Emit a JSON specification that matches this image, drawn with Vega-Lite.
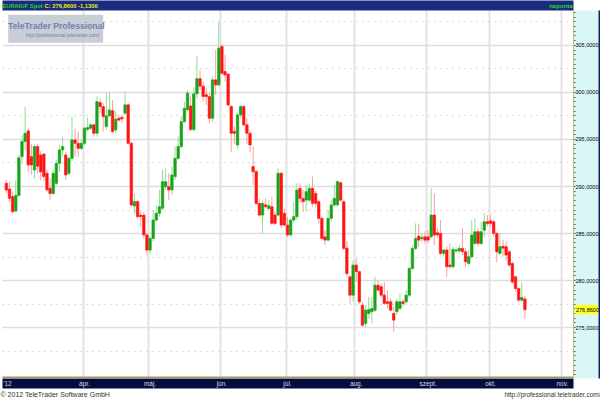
{
"$schema": "https://vega.github.io/schema/vega-lite/v6.json",
"width": 571, "height": 368,
"autosize": {"type": "none"},
"padding": {"left": 2, "top": 10, "right": 27, "bottom": 22},
"background": "#ffffff",
"config": {"view": {"stroke": null}, "font": "Liberation Sans"},
"resolve": {"axis": {"x": "independent", "y": "independent"}},
"data": {"values": [
{"d":"2012-02-27","o":290.28,"h":290.64,"l":289.22,"c":289.57},
{"d":"2012-02-28","o":289.68,"h":290.46,"l":288.33,"c":288.69},
{"d":"2012-02-29","o":288.87,"h":289.4,"l":287.1,"c":287.27},
{"d":"2012-03-01","o":287.34,"h":290.6,"l":287.2,"c":289.0},
{"d":"2012-03-02","o":289.0,"h":293.3,"l":288.8,"c":293.0},
{"d":"2012-03-05","o":293.12,"h":295.4,"l":292.4,"c":294.72},
{"d":"2012-03-06","o":294.72,"h":298.4,"l":293.8,"c":295.6},
{"d":"2012-03-07","o":295.85,"h":296.1,"l":291.5,"c":292.24},
{"d":"2012-03-08","o":293.12,"h":294.5,"l":291.2,"c":292.24},
{"d":"2012-03-09","o":291.7,"h":294.4,"l":290.8,"c":294.2},
{"d":"2012-03-12","o":294.2,"h":294.5,"l":291.3,"c":292.1},
{"d":"2012-03-13","o":293.3,"h":293.7,"l":290.6,"c":291.5},
{"d":"2012-03-14","o":293.4,"h":293.5,"l":290.5,"c":291.0},
{"d":"2012-03-15","o":291.35,"h":291.7,"l":289.4,"c":289.6},
{"d":"2012-03-16","o":289.75,"h":290.8,"l":288.5,"c":289.2},
{"d":"2012-03-19","o":289.2,"h":291.7,"l":289.0,"c":291.35},
{"d":"2012-03-20","o":290.28,"h":292.77,"l":290.1,"c":292.41},
{"d":"2012-03-21","o":292.41,"h":294.36,"l":291.5,"c":293.83},
{"d":"2012-03-22","o":293.83,"h":295.25,"l":293.12,"c":294.19},
{"d":"2012-03-23","o":293.3,"h":293.65,"l":290.64,"c":291.17},
{"d":"2012-03-26","o":291.35,"h":293.12,"l":291.17,"c":292.94},
{"d":"2012-03-27","o":292.94,"h":297.4,"l":292.6,"c":294.9},
{"d":"2012-03-28","o":294.9,"h":296.1,"l":293.12,"c":294.54},
{"d":"2012-03-29","o":294.54,"h":295.78,"l":293.12,"c":294.0},
{"d":"2012-03-30","o":294.0,"h":294.9,"l":293.83,"c":294.54},
{"d":"2012-04-02","o":294.54,"h":296.3,"l":294.36,"c":296.14},
{"d":"2012-04-03","o":296.0,"h":297.27,"l":295.78,"c":296.2},
{"d":"2012-04-04","o":296.14,"h":296.67,"l":295.96,"c":296.5},
{"d":"2012-04-05","o":296.5,"h":296.67,"l":295.25,"c":295.6},
{"d":"2012-04-06","o":295.6,"h":299.5,"l":295.25,"c":298.97},
{"d":"2012-04-09","o":298.87,"h":299.3,"l":297.7,"c":298.44},
{"d":"2012-04-10","o":298.44,"h":298.8,"l":295.8,"c":297.38},
{"d":"2012-04-11","o":296.31,"h":299.86,"l":295.96,"c":297.45},
{"d":"2012-04-12","o":297.45,"h":300.0,"l":297.38,"c":298.08},
{"d":"2012-04-13","o":298.0,"h":299.15,"l":295.6,"c":295.78},
{"d":"2012-04-16","o":295.96,"h":297.9,"l":295.6,"c":297.1},
{"d":"2012-04-17","o":297.2,"h":297.55,"l":296.84,"c":297.0},
{"d":"2012-04-18","o":297.3,"h":297.55,"l":296.67,"c":297.13},
{"d":"2012-04-19","o":297.73,"h":300.03,"l":297.55,"c":298.62},
{"d":"2012-04-20","o":298.62,"h":298.8,"l":294.36,"c":294.54},
{"d":"2012-04-23","o":294.54,"h":294.7,"l":287.8,"c":287.98},
{"d":"2012-04-24","o":287.88,"h":289.2,"l":287.1,"c":288.34},
{"d":"2012-04-25","o":288.34,"h":288.5,"l":286.56,"c":286.74},
{"d":"2012-04-26","o":286.9,"h":287.27,"l":285.67,"c":286.74},
{"d":"2012-04-27","o":286.9,"h":287.27,"l":284.43,"c":284.8},
{"d":"2012-04-30","o":284.8,"h":284.96,"l":282.66,"c":283.19},
{"d":"2012-05-01","o":283.19,"h":284.6,"l":282.8,"c":284.43},
{"d":"2012-05-02","o":284.43,"h":287.45,"l":284.08,"c":286.38},
{"d":"2012-05-03","o":286.38,"h":287.98,"l":286.2,"c":287.1},
{"d":"2012-05-04","o":287.1,"h":289.58,"l":286.74,"c":287.8},
{"d":"2012-05-07","o":287.63,"h":291.7,"l":287.45,"c":290.46},
{"d":"2012-05-08","o":289.93,"h":291.88,"l":289.58,"c":290.46},
{"d":"2012-05-09","o":289.93,"h":291.35,"l":288.5,"c":289.58},
{"d":"2012-05-10","o":289.58,"h":292.06,"l":289.04,"c":291.17},
{"d":"2012-05-11","o":291.0,"h":294.19,"l":290.64,"c":292.94},
{"d":"2012-05-14","o":292.94,"h":295.25,"l":292.77,"c":294.19},
{"d":"2012-05-15","o":294.19,"h":297.38,"l":294.0,"c":296.84},
{"d":"2012-05-16","o":296.84,"h":298.97,"l":296.67,"c":298.26},
{"d":"2012-05-17","o":298.1,"h":300.2,"l":297.9,"c":299.86},
{"d":"2012-05-18","o":298.5,"h":299.5,"l":295.8,"c":296.0},
{"d":"2012-05-21","o":296.0,"h":300.5,"l":295.8,"c":299.8},
{"d":"2012-05-22","o":299.8,"h":303.8,"l":299.3,"c":301.4},
{"d":"2012-05-23","o":301.4,"h":302.3,"l":300.2,"c":300.6},
{"d":"2012-05-24","o":300.6,"h":301.1,"l":298.97,"c":299.5},
{"d":"2012-05-25","o":299.7,"h":300.4,"l":298.6,"c":299.5},
{"d":"2012-05-28","o":299.5,"h":299.86,"l":296.67,"c":297.2},
{"d":"2012-05-29","o":297.2,"h":301.63,"l":296.84,"c":301.28},
{"d":"2012-05-30","o":301.28,"h":304.47,"l":299.68,"c":300.74},
{"d":"2012-05-31","o":300.74,"h":307.48,"l":300.57,"c":304.64},
{"d":"2012-06-01","o":304.82,"h":305.0,"l":301.8,"c":301.98},
{"d":"2012-06-04","o":302.16,"h":303.93,"l":301.1,"c":301.8},
{"d":"2012-06-05","o":301.88,"h":301.98,"l":298.44,"c":298.6},
{"d":"2012-06-06","o":298.44,"h":298.6,"l":293.65,"c":295.6},
{"d":"2012-06-07","o":295.8,"h":296.3,"l":294.5,"c":295.6},
{"d":"2012-06-08","o":294.36,"h":297.73,"l":294.0,"c":297.55},
{"d":"2012-06-11","o":297.55,"h":298.6,"l":297.2,"c":298.44},
{"d":"2012-06-12","o":298.44,"h":298.6,"l":296.3,"c":296.5},
{"d":"2012-06-13","o":296.5,"h":297.2,"l":294.5,"c":295.6},
{"d":"2012-06-14","o":295.6,"h":296.0,"l":293.6,"c":294.36},
{"d":"2012-06-15","o":292.06,"h":294.19,"l":290.1,"c":291.52},
{"d":"2012-06-18","o":291.52,"h":291.7,"l":287.98,"c":288.15},
{"d":"2012-06-19","o":288.15,"h":288.68,"l":286.74,"c":286.91},
{"d":"2012-06-20","o":286.91,"h":288.5,"l":284.96,"c":288.15},
{"d":"2012-06-21","o":288.0,"h":288.68,"l":287.6,"c":287.8},
{"d":"2012-06-22","o":287.6,"h":288.5,"l":287.4,"c":287.9},
{"d":"2012-06-25","o":287.8,"h":288.86,"l":285.85,"c":286.03},
{"d":"2012-06-26","o":286.91,"h":287.27,"l":285.85,"c":286.03},
{"d":"2012-06-27","o":286.91,"h":291.88,"l":286.74,"c":291.35},
{"d":"2012-06-28","o":291.35,"h":291.52,"l":285.5,"c":285.85},
{"d":"2012-06-29","o":287.1,"h":287.6,"l":285.7,"c":285.85},
{"d":"2012-07-02","o":285.85,"h":286.7,"l":284.6,"c":284.8},
{"d":"2012-07-03","o":284.8,"h":286.56,"l":284.6,"c":286.38},
{"d":"2012-07-04","o":286.38,"h":288.33,"l":286.03,"c":286.74},
{"d":"2012-07-05","o":286.74,"h":290.28,"l":286.38,"c":289.57},
{"d":"2012-07-06","o":289.75,"h":290.28,"l":288.15,"c":288.68},
{"d":"2012-07-09","o":288.68,"h":289.57,"l":287.27,"c":288.33},
{"d":"2012-07-10","o":288.5,"h":290.1,"l":287.27,"c":289.4},
{"d":"2012-07-11","o":288.5,"h":290.28,"l":288.33,"c":289.75},
{"d":"2012-07-12","o":289.75,"h":291.0,"l":287.8,"c":288.15},
{"d":"2012-07-13","o":289.2,"h":289.5,"l":287.8,"c":288.15},
{"d":"2012-07-16","o":288.33,"h":288.5,"l":286.03,"c":286.56},
{"d":"2012-07-17","o":286.56,"h":286.74,"l":284.25,"c":284.43},
{"d":"2012-07-18","o":284.6,"h":285.3,"l":283.72,"c":284.25},
{"d":"2012-07-19","o":284.25,"h":287.45,"l":284.08,"c":286.56},
{"d":"2012-07-20","o":286.56,"h":288.5,"l":286.2,"c":287.98},
{"d":"2012-07-23","o":287.98,"h":290.1,"l":287.8,"c":288.68},
{"d":"2012-07-24","o":288.0,"h":290.64,"l":287.8,"c":290.46},
{"d":"2012-07-25","o":290.35,"h":290.46,"l":288.33,"c":288.5},
{"d":"2012-07-26","o":288.33,"h":288.5,"l":283.19,"c":283.37},
{"d":"2012-07-27","o":283.4,"h":284.2,"l":280.35,"c":280.7},
{"d":"2012-07-30","o":280.35,"h":280.5,"l":277.5,"c":278.4},
{"d":"2012-07-31","o":278.4,"h":282.1,"l":277.7,"c":281.6},
{"d":"2012-08-01","o":281.6,"h":282.3,"l":279.8,"c":280.9},
{"d":"2012-08-02","o":280.9,"h":281.0,"l":277.5,"c":277.7},
{"d":"2012-08-03","o":277.33,"h":277.7,"l":275.0,"c":275.2},
{"d":"2012-08-06","o":275.4,"h":277.34,"l":275.0,"c":276.8},
{"d":"2012-08-07","o":276.45,"h":278.2,"l":275.9,"c":276.88},
{"d":"2012-08-08","o":276.63,"h":278.2,"l":275.4,"c":276.98},
{"d":"2012-08-09","o":276.8,"h":280.35,"l":276.6,"c":279.47},
{"d":"2012-08-10","o":279.47,"h":280.0,"l":278.8,"c":278.94},
{"d":"2012-08-13","o":279.3,"h":279.65,"l":278.2,"c":278.4},
{"d":"2012-08-14","o":278.4,"h":279.8,"l":277.35,"c":277.52},
{"d":"2012-08-15","o":277.7,"h":278.94,"l":277.0,"c":277.52},
{"d":"2012-08-16","o":277.7,"h":278.05,"l":276.64,"c":276.81},
{"d":"2012-08-17","o":276.46,"h":277.17,"l":274.5,"c":275.75},
{"d":"2012-08-20","o":276.64,"h":278.0,"l":276.3,"c":277.7},
{"d":"2012-08-21","o":277.0,"h":278.6,"l":276.8,"c":277.7},
{"d":"2012-08-22","o":277.7,"h":278.0,"l":277.2,"c":277.52},
{"d":"2012-08-23","o":277.7,"h":278.94,"l":277.35,"c":278.4},
{"d":"2012-08-24","o":278.4,"h":281.42,"l":278.2,"c":281.24},
{"d":"2012-08-27","o":281.24,"h":283.72,"l":281.06,"c":283.37},
{"d":"2012-08-28","o":283.37,"h":286.03,"l":283.2,"c":284.43},
{"d":"2012-08-29","o":284.68,"h":286.03,"l":283.55,"c":284.25},
{"d":"2012-08-30","o":284.4,"h":285.0,"l":284.0,"c":284.55},
{"d":"2012-08-31","o":284.6,"h":285.2,"l":283.9,"c":284.25},
{"d":"2012-09-03","o":284.6,"h":285.3,"l":283.9,"c":284.25},
{"d":"2012-09-04","o":284.61,"h":289.75,"l":284.43,"c":286.92},
{"d":"2012-09-05","o":286.92,"h":289.2,"l":283.72,"c":284.79},
{"d":"2012-09-06","o":285.03,"h":285.5,"l":284.5,"c":284.79},
{"d":"2012-09-07","o":284.96,"h":286.38,"l":282.66,"c":282.84},
{"d":"2012-09-10","o":282.84,"h":283.3,"l":282.48,"c":283.2},
{"d":"2012-09-11","o":283.2,"h":283.55,"l":280.35,"c":281.42},
{"d":"2012-09-12","o":281.6,"h":283.9,"l":281.24,"c":281.42},
{"d":"2012-09-13","o":281.42,"h":283.55,"l":281.24,"c":283.26},
{"d":"2012-09-14","o":283.1,"h":283.5,"l":282.9,"c":283.2},
{"d":"2012-09-17","o":283.1,"h":283.72,"l":282.84,"c":283.37},
{"d":"2012-09-18","o":283.37,"h":285.5,"l":282.66,"c":283.02},
{"d":"2012-09-19","o":283.02,"h":283.37,"l":281.42,"c":281.95},
{"d":"2012-09-20","o":281.77,"h":283.2,"l":281.6,"c":282.48},
{"d":"2012-09-21","o":282.48,"h":286.38,"l":282.3,"c":284.79},
{"d":"2012-09-24","o":283.9,"h":286.56,"l":283.7,"c":285.14},
{"d":"2012-09-25","o":285.14,"h":285.5,"l":283.6,"c":283.9},
{"d":"2012-09-26","o":283.9,"h":286.2,"l":283.7,"c":285.14},
{"d":"2012-09-27","o":285.3,"h":287.1,"l":284.6,"c":286.2},
{"d":"2012-09-28","o":286.2,"h":286.92,"l":285.7,"c":286.0},
{"d":"2012-10-01","o":286.3,"h":286.9,"l":285.7,"c":286.03},
{"d":"2012-10-02","o":286.2,"h":286.4,"l":284.6,"c":284.96},
{"d":"2012-10-03","o":284.96,"h":285.1,"l":281.95,"c":283.0},
{"d":"2012-10-04","o":282.84,"h":285.0,"l":282.66,"c":283.55},
{"d":"2012-10-05","o":283.6,"h":284.3,"l":282.5,"c":283.4},
{"d":"2012-10-08","o":283.55,"h":284.1,"l":282.1,"c":282.66},
{"d":"2012-10-09","o":283.0,"h":283.2,"l":281.4,"c":281.6},
{"d":"2012-10-10","o":281.77,"h":281.95,"l":279.6,"c":279.8},
{"d":"2012-10-11","o":280.35,"h":280.5,"l":278.8,"c":279.1},
{"d":"2012-10-12","o":279.1,"h":279.3,"l":277.7,"c":277.87},
{"d":"2012-10-15","o":277.87,"h":279.8,"l":277.7,"c":278.15},
{"d":"2012-10-16","o":278.0,"h":278.3,"l":275.9,"c":276.86}
]},
"layer": [
{
"mark": {"type": "rule", "strokeWidth": 1},
"encoding": {
"x": {"field": "d", "type": "ordinal",
"scale": {"paddingInner": 0.2, "paddingOuter": 0, "domain": ["2012-02-24","2012-02-27","2012-02-28","2012-02-29","2012-03-01","2012-03-02","2012-03-05","2012-03-06","2012-03-07","2012-03-08","2012-03-09","2012-03-12","2012-03-13","2012-03-14","2012-03-15","2012-03-16","2012-03-19","2012-03-20","2012-03-21","2012-03-22","2012-03-23","2012-03-26","2012-03-27","2012-03-28","2012-03-29","2012-03-30","2012-04-02","2012-04-03","2012-04-04","2012-04-05","2012-04-06","2012-04-09","2012-04-10","2012-04-11","2012-04-12","2012-04-13","2012-04-16","2012-04-17","2012-04-18","2012-04-19","2012-04-20","2012-04-23","2012-04-24","2012-04-25","2012-04-26","2012-04-27","2012-04-30","2012-05-01","2012-05-02","2012-05-03","2012-05-04","2012-05-07","2012-05-08","2012-05-09","2012-05-10","2012-05-11","2012-05-14","2012-05-15","2012-05-16","2012-05-17","2012-05-18","2012-05-21","2012-05-22","2012-05-23","2012-05-24","2012-05-25","2012-05-28","2012-05-29","2012-05-30","2012-05-31","2012-06-01","2012-06-04","2012-06-05","2012-06-06","2012-06-07","2012-06-08","2012-06-11","2012-06-12","2012-06-13","2012-06-14","2012-06-15","2012-06-18","2012-06-19","2012-06-20","2012-06-21","2012-06-22","2012-06-25","2012-06-26","2012-06-27","2012-06-28","2012-06-29","2012-07-02","2012-07-03","2012-07-04","2012-07-05","2012-07-06","2012-07-09","2012-07-10","2012-07-11","2012-07-12","2012-07-13","2012-07-16","2012-07-17","2012-07-18","2012-07-19","2012-07-20","2012-07-23","2012-07-24","2012-07-25","2012-07-26","2012-07-27","2012-07-30","2012-07-31","2012-08-01","2012-08-02","2012-08-03","2012-08-06","2012-08-07","2012-08-08","2012-08-09","2012-08-10","2012-08-13","2012-08-14","2012-08-15","2012-08-16","2012-08-17","2012-08-20","2012-08-21","2012-08-22","2012-08-23","2012-08-24","2012-08-27","2012-08-28","2012-08-29","2012-08-30","2012-08-31","2012-09-03","2012-09-04","2012-09-05","2012-09-06","2012-09-07","2012-09-10","2012-09-11","2012-09-12","2012-09-13","2012-09-14","2012-09-17","2012-09-18","2012-09-19","2012-09-20","2012-09-21","2012-09-24","2012-09-25","2012-09-26","2012-09-27","2012-09-28","2012-10-01","2012-10-02","2012-10-03","2012-10-04","2012-10-05","2012-10-08","2012-10-09","2012-10-10","2012-10-11","2012-10-12","2012-10-15","2012-10-16","2012-10-17","2012-10-18","2012-10-19","2012-10-22","2012-10-23","2012-10-24","2012-10-25","2012-10-26","2012-10-29","2012-10-30","2012-10-31","2012-11-01","2012-11-02","2012-11-05","2012-11-06"]},
"axis": {"orient": "bottom", "offset": 5, "domain": true, "domainColor": "#070c40", "domainWidth": 10, "domainCap": "butt", "ticks": false, "tickSize": 0, "grid": false, "labels": false,
"title": "© 2012 TeleTrader Software GmbH", "titleX": -2, "titleY": 11, "titleAlign": "left", "titleAnchor": "start", "titleBaseline": "middle", "titleFontSize": 7, "titleFontWeight": "normal", "titleColor": "#333333", "zindex": 0}},
"y": {"field": "l", "type": "quantitative", "scale": {"domain": [269.6, 308.7], "nice": false, "zero": false},
"axis": {"orient": "right", "offset": 12.5, "domain": true, "domainColor": "#daf7f7", "domainWidth": 25, "domainCap": "butt", "ticks": false, "tickSize": 0, "grid": false, "labels": false, "title": null, "zindex": 0}},
"y2": {"field": "h"},
"color": {"condition": {"test": "datum.c >= datum.o", "value": "#8fe08f"}, "value": "#ff9c9c"}
}
},
{
"mark": {"type": "bar", "strokeWidth": 0.6},
"encoding": {
"x": {"field": "d", "type": "ordinal",
"axis": {"orient": "top", "offset": 5, "domain": true, "domainColor": "#1b2b7d", "domainWidth": 10, "domainCap": "butt", "ticks": false, "labels": false, "grid": false,
"title": "EUR/HUF Spot", "titleX": 0, "titleY": 0, "titleAlign": "left", "titleAnchor": "start", "titleBaseline": "middle", "titleColor": "#22dd22", "titleFontSize": 5.8, "titleFontWeight": "bold", "zindex": 0}},
"y": {"field": "o", "type": "quantitative",
"axis": {"orient": "right", "offset": 0, "domain": true, "domainColor": "#c8c27a", "domainWidth": 1, "ticks": true, "tickSize": 2, "tickColor": "#555555", "tickWidth": 1, "labels": false, "grid": false,
"values": [270,270.5,271,271.5,272,272.5,273,273.5,274,274.5,275,275.5,276,276.5,277,277.5,278,278.5,279,279.5,280,280.5,281,281.5,282,282.5,283,283.5,284,284.5,285,285.5,286,286.5,287,287.5,288,288.5,289,289.5,290,290.5,291,291.5,292,292.5,293,293.5,294,294.5,295,295.5,296,296.5,297,297.5,298,298.5,299,299.5,300,300.5,301,301.5,302,302.5,303,303.5,304,304.5,305,305.5,306,306.5,307,307.5,308,308.5],
"title": "naponta", "titleAngle": 0, "titleX": -1, "titleY": -5, "titleAlign": "right", "titleAnchor": "start", "titleBaseline": "middle", "titleColor": "#22dd22", "titleFontSize": 6, "titleFontWeight": "bold", "zindex": 0}},
"y2": {"field": "c"},
"color": {"condition": {"test": "datum.c >= datum.o", "value": "#1aa31a"}, "value": "#ff1414"},
"stroke": {"condition": {"test": "datum.c >= datum.o", "value": "#1aa31a"}, "value": "#ff1414"}
}
},
{
"data": {"values": [{}]},
"mark": {"type": "rect", "color": "#c9cdd6"},
"encoding": {
"x": {"datum": "2012-02-28", "type": "ordinal", "bandPosition": 0,
"axis": {"orient": "top", "offset": 0, "domain": false, "ticks": false, "labels": false, "grid": true, "gridColor": "#e3e3e3", "gridWidth": 2, "bandPosition": 0,
"values": ["2012-04-02","2012-05-01","2012-06-01","2012-07-02","2012-08-01","2012-09-03","2012-10-01","2012-11-01"],
"title": "C: 276,8600 -1,1300", "titleX": 42, "titleY": -5, "titleAlign": "left", "titleAnchor": "start", "titleBaseline": "middle", "titleColor": "#eeee00", "titleFontSize": 5.8, "titleFontWeight": "bold", "zindex": 0}},
"x2": {"datum": "2012-04-10"},
"y": {"datum": 308.19, "type": "quantitative",
"axis": {"orient": "left", "domain": false, "ticks": false, "labels": false, "grid": true, "gridColor": "#dddddd", "gridWidth": 1.5,
"values": [275, 280, 285, 290, 295, 300, 305], "title": null, "zindex": 0}},
"y2": {"datum": 305.21}
}
},
{
"data": {"values": [{}]},
"mark": {"type": "text", "text": "TeleTrader Professional", "fontWeight": "bold", "fontSize": 8.6, "color": "#7282ad", "align": "center", "baseline": "middle"},
"encoding": {
"x": {"datum": "2012-03-20", "type": "ordinal",
"axis": {"orient": "bottom", "offset": -1, "domain": true, "domainColor": "#a29a6a", "domainWidth": 2, "ticks": false, "tickSize": 0, "grid": false, "bandPosition": 0,
"values": ["2012-02-24","2012-04-02","2012-05-01","2012-06-01","2012-07-02","2012-08-01","2012-09-03","2012-10-01","2012-11-01"],
"labelExpr": "datum.value == '2012-02-24' ? \"'12\" : ['', 'jan.', 'febr.', 'márc.', 'ápr.', 'máj.', 'jún.', 'júl.', 'aug.', 'szept.', 'okt.', 'nov.', 'dec.'][toNumber(substring(datum.value, 5, 7))]",
"labelAngle": 0, "labelColor": "#d8d8e6", "labelFontSize": 6.5, "labelBaseline": "middle", "labelPadding": 6, "labelOverlap": false, "labelBound": false, "labelFlush": false,
"labelAlign": {"condition": {"test": "datum.value == '2012-02-24'", "value": "left"}, "value": "center"},
"title": "http://professional.teletrader.com/", "titleX": 598, "titleY": 17, "titleAlign": "right", "titleAnchor": "end", "titleBaseline": "middle", "titleFontSize": 6.5, "titleFontWeight": "normal", "titleColor": "#333333", "zindex": 0}},
"y": {"datum": 307.0, "type": "quantitative",
"axis": {"orient": "right", "offset": 26, "domain": true, "domainColor": "#10206e", "domainWidth": 2, "ticks": false, "labels": false, "grid": true, "gridColor": "#bbbbbb", "gridDash": [1, 5], "gridWidth": 1,
"values": [272.5, 277.5, 282.5, 287.5, 292.5, 297.5, 302.5, 307.5], "title": null, "zindex": 0}}
}
},
{
"data": {"values": [{}]},
"mark": {"type": "text", "text": "http://professional.teletrader.com/", "fontSize": 5, "color": "#7282ad", "align": "center", "baseline": "middle"},
"encoding": {
"x": {"datum": "2012-03-22", "type": "ordinal", "axis": null},
"y": {"datum": 306.0, "type": "quantitative",
"axis": {"orient": "right", "offset": 0, "domain": false, "ticks": false, "tickSize": 0, "grid": false,
"values": [275, 280, 285, 290, 295, 300, 305],
"labelExpr": "replace(format(datum.value, '.4f'), '.', ',')", "labelAlign": "left", "labelPadding": 2, "labelFontSize": 5.5, "labelColor": "#000000", "labelBaseline": "middle", "labelOverlap": false, "labelBound": false, "labelFlush": false, "title": null, "zindex": 0}}
}
},
{
"data": {"values": [{}]},
"mark": {"type": "rect", "color": "#ffff22", "xOffset": 2, "x2Offset": 25},
"encoding": {
"x": {"datum": "2012-11-06", "type": "ordinal", "bandPosition": 1, "axis": null},
"x2": {"datum": "2012-11-06", "bandPosition": 1},
"y": {"datum": 277.36, "type": "quantitative", "axis": null},
"y2": {"datum": 276.36}
}
},
{
"data": {"values": [{}]},
"mark": {"type": "text", "text": "276,8600", "fontSize": 5.5, "color": "#000000", "align": "left", "baseline": "middle", "dx": 3},
"encoding": {
"x": {"datum": "2012-11-06", "type": "ordinal", "bandPosition": 1, "axis": null},
"y": {"datum": 276.86, "type": "quantitative", "axis": null}
}
}
]
}
